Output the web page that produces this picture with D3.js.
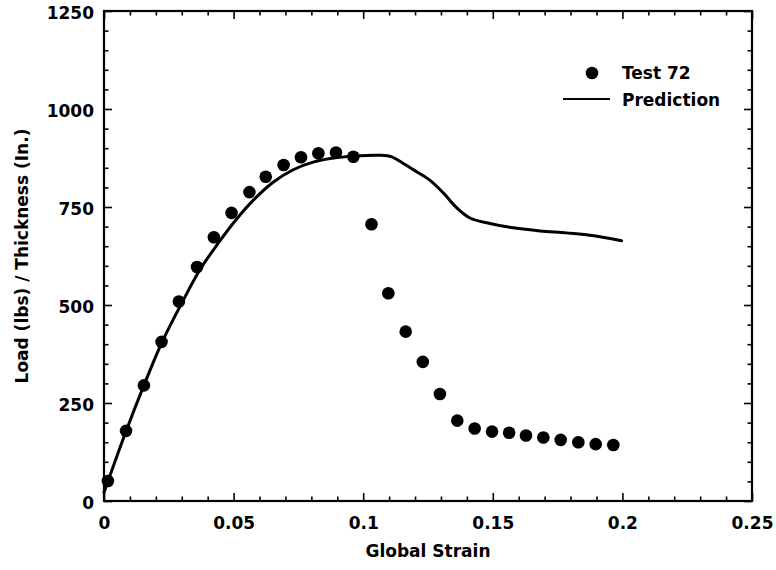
<!DOCTYPE html>
<html>
<head>
<meta charset="utf-8">
<script src="https://cdn.jsdelivr.net/npm/d3@7"></script>
<style>
  html, body { margin: 0; padding: 0; background: #fff; }
  svg { display: block; }
  text { font-family: "DejaVu Sans", sans-serif; font-weight: bold; fill: #000; }
</style>
</head>
<body>
<svg id="chart" width="776" height="570"></svg>
<script>
// ---- data ----
const testStrain = [0.0015, 0.0085, 0.0154, 0.0222, 0.0289, 0.0359, 0.0424, 0.0492, 0.0561, 0.0624,
                    0.0693, 0.0760, 0.0827, 0.0895, 0.0962, 0.1032, 0.1097, 0.1164, 0.1230, 0.1296,
                    0.1363, 0.1430, 0.1497, 0.1563, 0.1628, 0.1695, 0.1762, 0.1830, 0.1897, 0.1965];
const testLoad   = [51, 179, 295, 406, 509, 597, 673, 735, 788, 827,
                    857, 877, 887, 889, 878, 706, 530, 432, 355, 273,
                    205, 185, 177, 174, 167, 162, 156, 150, 145, 143];
const predStrain = [0, 0.0085, 0.0154, 0.0223, 0.0300, 0.0370, 0.0440, 0.0510, 0.0580, 0.0650,
                    0.0730, 0.0810, 0.0900, 0.0988, 0.1060, 0.1110, 0.1155, 0.1206, 0.1258,
                    0.1309, 0.1361, 0.1412, 0.1489, 0.1579, 0.1682, 0.1785, 0.1875, 0.1997];
const predLoad   = [22, 178, 295, 404, 505, 590, 657, 718, 770, 812,
                    845, 865, 876, 881, 882, 878, 861, 840, 818, 786, 748, 722, 708, 697,
                    689, 684, 678, 664];
const xMajorTicks = [0, 0.05, 0.1, 0.15, 0.2, 0.25];
const xTickLabels = ["0", "0.05", "0.1", "0.15", "0.2", "0.25"];
const yMajorTicks = [0, 250, 500, 750, 1000, 1250];
const yTickLabels = ["0", "250", "500", "750", "1000", "1250"];
const xMinorStep = 0.01;
const yMinorStep = 50;
const seriesNames = ["Test 72", "Prediction"];
const xTitle = "Global Strain";
const yTitle = "Load (lbs) / Thickness (In.)";

// ---- layout ----
const mLeft = 104, mRight = 752, mTop = 11, mBottom = 501;
const svg = d3.select("#chart");

const x = d3.scaleLinear().domain([0, 0.25]).range([mLeft, mRight]);
const y = d3.scaleLinear().domain([0, 1250]).range([mBottom, mTop]);

const xMinor = d3.range(0, 0.25 + 1e-9, xMinorStep).filter(v => !xMajorTicks.some(m => Math.abs(m - v) < 1e-9));
const yMinor = d3.range(0, 1250 + 1e-9, yMinorStep).filter(v => !yMajorTicks.some(m => Math.abs(m - v) < 1e-9));

function styleAxis(g) {
  g.selectAll("path.domain").remove();
  g.selectAll("line").attr("stroke", "#000").attr("stroke-width", 1.6);
}

// minor ticks (inward)
svg.append("g").attr("transform", `translate(0,${mBottom})`)
  .call(d3.axisBottom(x).tickValues(xMinor).tickSize(-4.5).tickFormat(""))
  .call(styleAxis);
svg.append("g").attr("transform", `translate(0,${mTop})`)
  .call(d3.axisTop(x).tickValues(xMinor).tickSize(-4.5).tickFormat(""))
  .call(styleAxis);
svg.append("g").attr("transform", `translate(${mLeft},0)`)
  .call(d3.axisLeft(y).tickValues(yMinor).tickSize(-4.5).tickFormat(""))
  .call(styleAxis);
svg.append("g").attr("transform", `translate(${mRight},0)`)
  .call(d3.axisRight(y).tickValues(yMinor).tickSize(-4.5).tickFormat(""))
  .call(styleAxis);

// major ticks
const xb = svg.append("g").attr("transform", `translate(0,${mBottom})`)
  .call(d3.axisBottom(x).tickValues(xMajorTicks).tickSize(-8).tickPadding(16)
        .tickFormat((d, i) => xTickLabels[i]))
  .call(styleAxis);
xb.selectAll("text").attr("font-size", 17).attr("font-family", "DejaVu Sans").attr("font-weight", "bold").attr("fill", "#000");

svg.append("g").attr("transform", `translate(0,${mTop})`)
  .call(d3.axisTop(x).tickValues(xMajorTicks).tickSize(-8).tickFormat(""))
  .call(styleAxis);

const yl = svg.append("g").attr("transform", `translate(${mLeft},0)`)
  .call(d3.axisLeft(y).tickValues(yMajorTicks).tickSize(-8).tickPadding(10)
        .tickFormat((d, i) => yTickLabels[i]))
  .call(styleAxis);
yl.selectAll("text").attr("font-size", 17).attr("dy", "0.45em").attr("font-family", "DejaVu Sans").attr("font-weight", "bold").attr("fill", "#000");

svg.append("g").attr("transform", `translate(${mRight},0)`)
  .call(d3.axisRight(y).tickValues(yMajorTicks).tickSize(-8).tickFormat(""))
  .call(styleAxis);

// frame
svg.append("rect")
  .attr("x", mLeft).attr("y", mTop)
  .attr("width", mRight - mLeft).attr("height", mBottom - mTop)
  .attr("fill", "none").attr("stroke", "#000").attr("stroke-width", 2.2);

// prediction line
const predData = predStrain.map((s, i) => [s, predLoad[i]]);
svg.append("path")
  .datum(predData)
  .attr("fill", "none").attr("stroke", "#000").attr("stroke-width", 3)
  .attr("stroke-linejoin", "round").attr("stroke-linecap", "round")
  .attr("d", d3.line().x(d => x(d[0])).y(d => y(d[1])).curve(d3.curveCatmullRom.alpha(0.5)));

// test points
const testData = testStrain.map((s, i) => [s, testLoad[i]]);
svg.append("g").selectAll("circle")
  .data(testData).join("circle")
  .attr("cx", d => x(d[0])).attr("cy", d => y(d[1]))
  .attr("r", 6.3).attr("fill", "#000");

// axis titles
svg.append("text")
  .attr("x", (mLeft + mRight) / 2).attr("y", 557)
  .attr("text-anchor", "middle").attr("font-size", 17)
  .text(xTitle);
svg.append("text")
  .attr("transform", `translate(28,${(mTop + mBottom) / 2}) rotate(-90)`)
  .attr("text-anchor", "middle").attr("font-size", 17)
  .text(yTitle);

// legend
const lg = svg.append("g");
lg.append("circle").attr("cx", 592).attr("cy", 73).attr("r", 6.3).attr("fill", "#000");
lg.append("text").attr("x", 622).attr("y", 79).attr("font-size", 17).text(seriesNames[0]);
lg.append("line").attr("x1", 563).attr("x2", 610).attr("y1", 99).attr("y2", 99)
  .attr("stroke", "#000").attr("stroke-width", 2.2);
lg.append("text").attr("x", 622).attr("y", 106).attr("font-size", 17).text(seriesNames[1]);
</script>
</body>
</html>
